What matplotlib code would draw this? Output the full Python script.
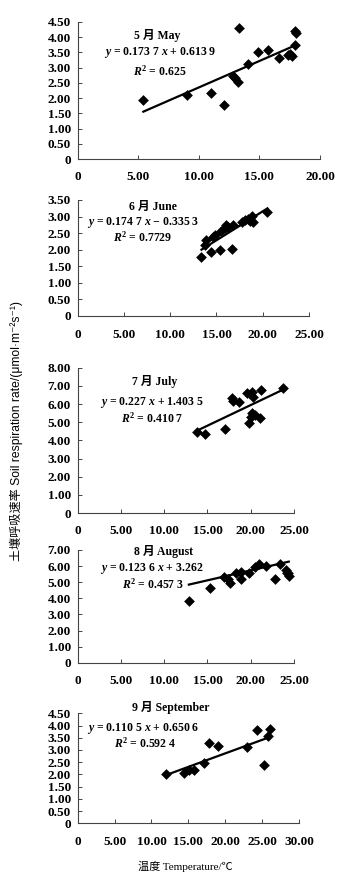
import matplotlib
matplotlib.use('Agg')
import matplotlib.pyplot as plt
from matplotlib.ticker import FuncFormatter, MultipleLocator
import numpy as np

plt.rcParams['font.family'] = ['Liberation Serif', 'Noto Sans CJK SC', 'DejaVu Sans']
plt.rcParams['mathtext.fontset'] = 'custom'
plt.rcParams['mathtext.it'] = 'Liberation Serif:italic:bold'
plt.rcParams['mathtext.rm'] = 'Liberation Serif:bold'

# May
may_t = [5.42, 9.02, 11.0, 12.05, 13.34, 12.85, 12.98, 13.26, 14.09, 14.88,
         15.74, 16.6, 17.39, 17.66, 17.5, 17.94, 17.94, 18.0]
may_r = [1.94, 2.10, 2.18, 1.79, 4.29, 2.72, 2.65, 2.54, 3.12, 3.53,
         3.57, 3.32, 3.41, 3.38, 3.46, 3.75, 4.20, 4.14]
# June
jun_t = [13.38, 14.46, 15.36, 16.69, 13.74, 13.9, 14.64, 14.82, 15.54, 15.9,
         16.07, 16.25, 16.8, 17.8, 18.05, 18.4, 18.8, 18.9, 18.6, 20.5]
jun_r = [1.77, 1.94, 1.99, 2.01, 2.14, 2.29, 2.37, 2.44, 2.55, 2.65,
         2.75, 2.70, 2.75, 2.85, 2.90, 2.92, 3.02, 2.85, 2.88, 3.15]
# July
jul_t = [13.75, 14.71, 17.03, 17.8, 17.99, 18.68, 19.6, 20.1, 20.3, 21.15,
         19.76, 19.99, 20.2, 20.5, 21.07, 23.69]
jul_r = [4.48, 4.34, 4.63, 6.31, 6.17, 6.13, 6.63, 6.68, 6.40, 6.77,
         4.98, 5.27, 5.49, 5.40, 5.25, 6.86]
# August
aug_t = [12.85, 15.27, 16.92, 17.38, 17.58, 18.35, 18.85, 18.92, 19.8, 20.46,
         20.96, 21.8, 22.8, 23.42, 24.1, 24.3, 24.4, 24.2]
aug_r = [3.83, 4.66, 5.32, 5.17, 4.92, 5.59, 5.66, 5.20, 5.55, 5.96,
         6.11, 6.00, 5.20, 6.11, 5.76, 5.60, 5.40, 5.55]
# September
sep_t = [11.95, 14.43, 15.07, 15.74, 17.1, 17.77, 19.08, 23.0, 24.31, 25.26,
         25.76, 26.03]
sep_r = [2.00, 2.07, 2.18, 2.18, 2.45, 3.27, 3.16, 3.11, 3.82, 2.39,
         3.57, 3.86]

titles = ['5 月 May', '6 月 June', '7 月 July', '8 月 August', '9 月 September']
slopes = [0.1737, 0.1747, 0.227, 0.1236, 0.1105]
intercepts = [0.6139, -0.3353, 1.4035, 3.262, 0.6506]
eq_text = [r'$y$ = 0.173 7 $x$ + 0.613 9', r'$y$ = 0.174 7 $x$ − 0.335 3',
           r'$y$ = 0.227 $x$ + 1.403 5', r'$y$ = 0.123 6 $x$ + 3.262',
           r'$y$ = 0.110 5 $x$ + 0.650 6']
r2_text = [r'$R^2$ = 0.625', r'$R^2$ = 0.7729', r'$R^2$ = 0.410 7',
           r'$R^2$ = 0.457 3', r'$R^2$ = 0.592 4']
xmax = [20, 25, 25, 25, 30]
ymax = [4.5, 3.5, 8, 7, 4.5]
ystep = [0.5, 0.5, 1, 1, 0.5]

temps = [may_t, jun_t, jul_t, aug_t, sep_t]
rates = [may_r, jun_r, jul_r, aug_r, sep_r]

W, H = 350, 886
# axes boxes in pixels: left, top, right, bottom
boxes = [(77.7, 22, 320, 159), (77.7, 200, 309, 316), (77.7, 367.7, 294, 513),
         (77.7, 550, 294, 662.7), (77.7, 713.3, 299, 823.3)]
# text positions (x center, y center) in pixels: title, equation, R2
txt_pos = [[(157, 35), (160, 53), (160, 71)],
           [(153, 207), (143, 222), (143, 237)],
           [(155, 382), (152, 402), (152, 418)],
           [(163, 551), (152, 569), (153, 584)],
           [(171, 708), (143, 728), (145, 743)]]

fig = plt.figure(figsize=(W / 100, H / 100), dpi=100)

fmt = FuncFormatter(lambda v, p: '0' if abs(v) < 1e-9 else '%.2f' % v)

for i in range(5):
    l, t, r, b = boxes[i]
    ax = fig.add_axes([l / W, 1 - b / H, (r - l) / W, (b - t) / H])
    x = np.array(temps[i])
    y = np.array(rates[i])
    ax.scatter(x, y, marker='D', s=30, color='black', zorder=3, linewidths=0)
    xs = np.array([x.min(), x.max()])
    ax.plot(xs, slopes[i] * xs + intercepts[i], color='black', lw=1.6)
    ax.set_xlim(0, xmax[i])
    ax.set_ylim(0, ymax[i])
    ax.xaxis.set_major_locator(MultipleLocator(5))
    ax.yaxis.set_major_locator(MultipleLocator(ystep[i]))
    ax.xaxis.set_major_formatter(fmt)
    ax.yaxis.set_major_formatter(fmt)
    for s in ['top', 'right']:
        ax.spines[s].set_visible(False)
    for s in ['left', 'bottom']:
        ax.spines[s].set_color('#444444')
        ax.spines[s].set_linewidth(0.8)
    ax.tick_params(direction='in', length=3, width=0.7, color='#444444',
                   labelsize=9.5, pad=5)
    ax.tick_params(axis='x', pad=9)
    for lab in ax.get_xticklabels() + ax.get_yticklabels():
        lab.set_fontweight('bold')
    (tx, ty), (ex, ey), (rx, ry) = txt_pos[i]
    fig.text(tx / W, 1 - ty / H, titles[i], ha='center', va='center',
             fontsize=8.5, fontweight='bold')
    fig.text(ex / W, 1 - ey / H, eq_text[i], ha='center', va='center',
             fontsize=8.5, fontweight='bold')
    fig.text(rx / W, 1 - ry / H, r2_text[i], ha='center', va='center',
             fontsize=8.5, fontweight='bold')

fig.text(16 / W, 1 - 431 / H, '土壤呼吸速率 Soil respiration rate/(μmol·m⁻²s⁻¹)',
         rotation=90, ha='center', va='center', fontsize=8.7,
         family=['Liberation Sans', 'Noto Sans CJK SC', 'DejaVu Sans'])
fig.text(185 / W, 1 - 866 / H, '温度 Temperature/℃', ha='center', va='center',
         fontsize=8)

plt.savefig('out.png', dpi=100)
